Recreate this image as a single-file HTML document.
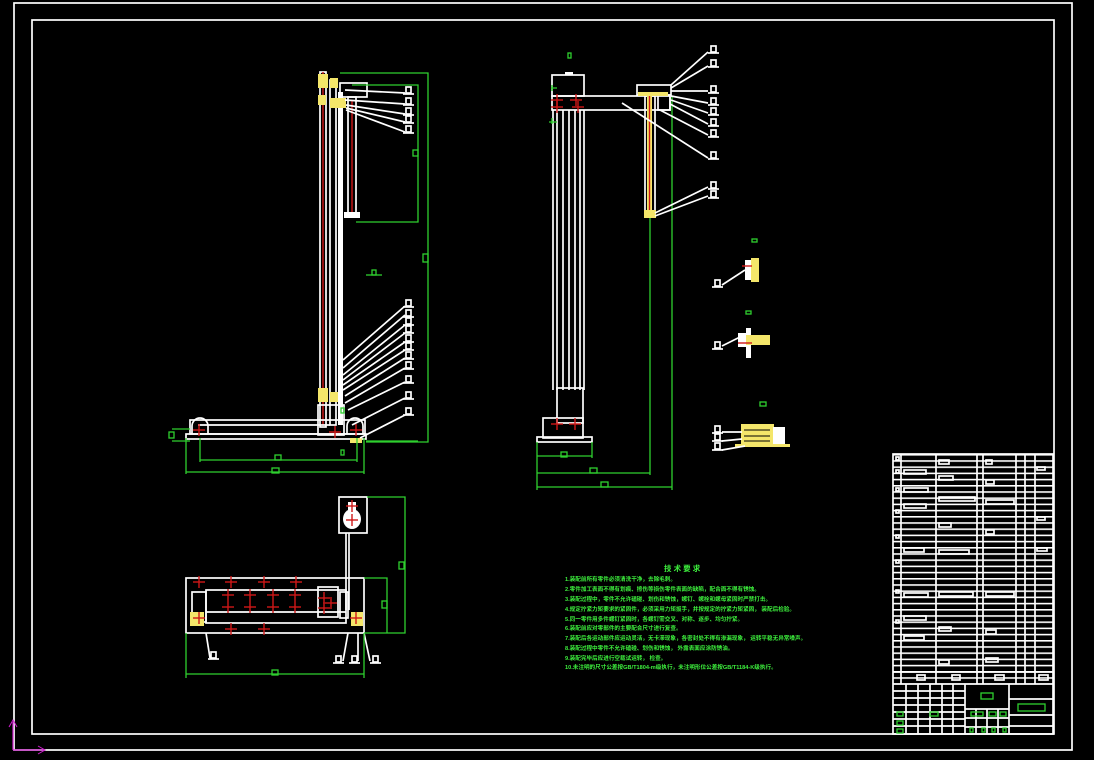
<!DOCTYPE html>
<html><head><meta charset="utf-8"><style>
html,body{margin:0;padding:0;background:#000;width:1094px;height:760px;overflow:hidden}
svg{display:block}
.w{stroke:#fff;fill:none;stroke-width:1.7}
.wf{fill:#fff}
.g{stroke:#2fd02f;fill:none;stroke-width:1.3}
.r{stroke:#d01818;fill:none;stroke-width:1.4}
.y{fill:#f4e66a}
.t{font-family:"Liberation Sans","Noto Sans CJK SC",sans-serif;fill:#3df03d;font-size:5.6px;font-weight:bold}
</style></head><body>
<svg width="1094" height="760" viewBox="0 0 1094 760" xmlns="http://www.w3.org/2000/svg">
<defs>
<pattern id="rows" x="0" y="454" width="10" height="6.2" patternUnits="userSpaceOnUse">
<line x1="0" y1="0.8" x2="10" y2="0.8" stroke="#fff" stroke-width="1.6"/>
</pattern>
<g id="lb"><rect x="0" y="0" width="5" height="6" class="w" stroke-width="1.2"/><line x1="-3" y1="7" x2="8" y2="7" class="w" stroke-width="1.2"/></g>
<g id="cx"><line x1="-6" y1="0" x2="6" y2="0" class="r"/><line x1="0" y1="-6" x2="0" y2="6" class="r"/></g>
</defs>
<!-- frames -->
<rect x="14" y="3" width="1058" height="747" class="w" stroke-width="1"/>
<rect x="32" y="20" width="1022" height="714" class="w" stroke-width="1.6"/>
<!-- UCS -->
<line x1="13" y1="750" x2="13" y2="722" stroke="#d020d0" stroke-width="1.2"/>
<line x1="13" y1="750" x2="44" y2="750" stroke="#d020d0" stroke-width="1.2"/>
<path d="M9 727 L13 720 L17 727 M38 746 L45 750 L38 754" stroke="#d020d0" fill="none"/>

<!-- ========== LEFT VIEW ========== -->
<g>
<rect x="320" y="72" width="6" height="355" class="w"/>
<rect x="330" y="80" width="6" height="345" class="w"/>
<rect x="338" y="92" width="5" height="333" class="wf"/>
<line x1="323" y1="72" x2="323" y2="425" class="r" stroke-width="1"/>
<rect x="340" y="83" width="27" height="14" class="w"/>
<rect x="348" y="97" width="8" height="118" class="w"/>
<line x1="352" y1="100" x2="352" y2="212" class="r" stroke-width="1"/>
<rect x="344" y="212" width="16" height="6" class="wf"/>
<rect x="318" y="74" width="10" height="14" class="y"/><rect x="330" y="78" width="8" height="10" class="y"/>
<rect x="330" y="98" width="16" height="10" class="y"/><rect x="318" y="95" width="8" height="10" class="y"/>
<rect x="318" y="388" width="10" height="14" class="y"/><rect x="330" y="392" width="8" height="10" class="y"/>
<!-- base -->
<rect x="190" y="420" width="175" height="14" class="w" stroke-width="2.4"/>
<rect x="186" y="434" width="180" height="5" class="w" stroke-width="2"/>
<line x1="198" y1="425" x2="330" y2="425" class="w"/>
<path d="M192 434 v-8 a8 8 0 0 1 16 0 v8" class="w" stroke-width="2.4"/>
<path d="M347 434 v-8 a8 8 0 0 1 16 0 v8" class="w" stroke-width="2.4"/>
<rect x="318" y="405" width="26" height="30" class="w"/>
<use href="#cx" x="199" y="430"/><use href="#cx" x="356" y="430"/><use href="#cx" x="335" y="432"/>
<rect x="350" y="438" width="12" height="5" class="y"/>
<!-- dims -->
<polyline points="340,73 428,73 428,442 366,442" class="g"/>
<polyline points="352,85 418,85 418,222 356,222" class="g"/>
<rect x="413" y="150" width="5" height="6" class="g"/><rect x="423" y="254" width="5" height="8" class="g"/>
<line x1="186" y1="438" x2="186" y2="474" class="g"/><line x1="364" y1="438" x2="364" y2="474" class="g"/>
<line x1="200" y1="438" x2="200" y2="462" class="g"/><line x1="357" y1="438" x2="357" y2="462" class="g"/>
<line x1="200" y1="460" x2="357" y2="460" class="g"/><line x1="186" y1="472" x2="364" y2="472" class="g"/>
<rect x="275" y="455" width="6" height="5" class="g"/><rect x="272" y="468" width="7" height="5" class="g"/>
<line x1="172" y1="429" x2="190" y2="429" class="g"/><line x1="172" y1="441" x2="190" y2="441" class="g"/><rect x="169" y="432" width="5" height="6" class="g"/>
<line x1="366" y1="441" x2="418" y2="441" class="g"/>
<rect x="341" y="450" width="3" height="5" class="g"/><rect x="341" y="408" width="3" height="5" class="g"/>
<line x1="366" y1="275" x2="382" y2="275" class="g"/><rect x="372" y="270" width="4" height="5" class="g"/>
<!-- leaders top -->
<g class="w" stroke-width="1.1">
<line x1="345" y1="90" x2="405" y2="93"/><line x1="345" y1="100" x2="405" y2="104"/><line x1="346" y1="105" x2="405" y2="114"/><line x1="346" y1="108" x2="405" y2="122"/><line x1="346" y1="110" x2="405" y2="132"/>
</g>
<use href="#lb" x="406" y="87"/><use href="#lb" x="406" y="98"/><use href="#lb" x="406" y="108"/><use href="#lb" x="406" y="116"/><use href="#lb" x="406" y="126"/>
<!-- leaders bottom -->
<g class="w" stroke-width="1.1">
<line x1="343" y1="360" x2="405" y2="306"/><line x1="343" y1="368" x2="405" y2="315"/><line x1="343" y1="375" x2="405" y2="325"/><line x1="343" y1="380" x2="405" y2="333"/><line x1="343" y1="385" x2="405" y2="342"/><line x1="343" y1="390" x2="405" y2="350"/><line x1="345" y1="396" x2="405" y2="358"/><line x1="345" y1="403" x2="405" y2="368"/><line x1="348" y1="410" x2="405" y2="382"/><line x1="352" y1="425" x2="405" y2="398"/><line x1="360" y1="438" x2="405" y2="415"/>
</g>
<use href="#lb" x="406" y="300"/><use href="#lb" x="406" y="310"/><use href="#lb" x="406" y="318"/><use href="#lb" x="406" y="326"/><use href="#lb" x="406" y="335"/><use href="#lb" x="406" y="343"/><use href="#lb" x="406" y="352"/><use href="#lb" x="406" y="362"/><use href="#lb" x="406" y="376"/><use href="#lb" x="406" y="392"/><use href="#lb" x="406" y="408"/>
</g>

<!-- ========== MIDDLE VIEW ========== -->
<g>
<rect x="552" y="75" width="32" height="21" class="w"/>
<rect x="565" y="72" width="8" height="3" class="wf"/>
<rect x="552" y="96" width="118" height="14" class="w" stroke-width="2"/>
<g class="w"><line x1="553" y1="110" x2="553" y2="390"/><line x1="557" y1="110" x2="557" y2="390"/><line x1="563" y1="110" x2="563" y2="390"/><line x1="569" y1="110" x2="569" y2="390"/><line x1="575" y1="110" x2="575" y2="390"/><line x1="580" y1="110" x2="580" y2="390"/><line x1="584" y1="110" x2="584" y2="390"/></g>
<rect x="557" y="388" width="26" height="35" class="w"/>
<rect x="543" y="418" width="40" height="20" class="w"/>
<rect x="537" y="437" width="55" height="5" class="w" stroke-width="2"/>
<use href="#cx" x="557" y="424"/><use href="#cx" x="575" y="424"/>
<use href="#cx" x="557" y="100"/><use href="#cx" x="557" y="107"/><use href="#cx" x="576" y="100"/><use href="#cx" x="578" y="107"/>
<path d="M551 88 h6 M549 122 h8 M552 85 v6 M552 118 v6" class="g" stroke-width="2"/>
<rect x="637" y="85" width="34" height="10" class="w"/>
<rect x="658" y="95" width="12" height="15" class="w"/>
<rect x="645" y="96" width="10" height="115" class="w"/>
<rect x="647" y="96" width="5" height="115" class="y"/>
<line x1="649.5" y1="96" x2="649.5" y2="210" class="r" stroke-width="1"/>
<rect x="644" y="210" width="12" height="8" class="y"/>
<rect x="638" y="92" width="30" height="4" class="y"/>
<!-- dims -->
<line x1="672" y1="96" x2="672" y2="490" class="g"/><line x1="650" y1="218" x2="650" y2="475" class="g"/>
<line x1="537" y1="442" x2="537" y2="490" class="g"/><line x1="592" y1="442" x2="592" y2="458" class="g"/>
<line x1="537" y1="456" x2="592" y2="456" class="g"/><line x1="537" y1="473" x2="650" y2="473" class="g"/><line x1="537" y1="487" x2="672" y2="487" class="g"/>
<rect x="561" y="452" width="6" height="5" class="g"/><rect x="590" y="468" width="7" height="5" class="g"/><rect x="601" y="482" width="7" height="5" class="g"/>
<rect x="568" y="53" width="3" height="5" class="g"/>
<g class="w" stroke-width="1.1">
<line x1="671" y1="85" x2="708" y2="52"/><line x1="671" y1="88" x2="708" y2="66"/><line x1="671" y1="91" x2="708" y2="91"/><line x1="671" y1="96" x2="708" y2="103"/><line x1="671" y1="100" x2="708" y2="113"/><line x1="670" y1="104" x2="708" y2="124"/><line x1="660" y1="110" x2="708" y2="135"/><line x1="622" y1="103" x2="708" y2="158"/><line x1="655" y1="213" x2="708" y2="187"/><line x1="655" y1="216" x2="708" y2="196"/>
</g>
<use href="#lb" x="711" y="46"/><use href="#lb" x="711" y="60"/><use href="#lb" x="711" y="86"/><use href="#lb" x="711" y="98"/><use href="#lb" x="711" y="108"/><use href="#lb" x="711" y="119"/><use href="#lb" x="711" y="130"/><use href="#lb" x="711" y="152"/><use href="#lb" x="711" y="182"/><use href="#lb" x="711" y="191"/>
</g>

<!-- ========== DETAIL VIEWS ========== -->
<rect x="752" y="239" width="5" height="3" class="g"/>
<rect x="745" y="260" width="8" height="20" class="wf"/><rect x="751" y="258" width="8" height="24" class="y"/><line x1="742" y1="266" x2="752" y2="266" class="r"/>
<line x1="722" y1="285" x2="745" y2="270" class="w" stroke-width="1.1"/><use href="#lb" x="715" y="280"/>
<rect x="746" y="311" width="5" height="3" class="g"/>
<rect x="746" y="328" width="5" height="30" class="wf"/><rect x="742" y="335" width="28" height="10" class="y"/><rect x="738" y="333" width="8" height="14" class="wf"/><line x1="738" y1="343" x2="752" y2="343" class="r"/>
<line x1="722" y1="346" x2="740" y2="337" class="w" stroke-width="1.1"/><use href="#lb" x="715" y="342"/>
<rect x="760" y="402" width="6" height="4" class="g"/>
<rect x="741" y="424" width="33" height="20" class="y"/><rect x="773" y="427" width="12" height="17" class="wf"/><rect x="735" y="444" width="55" height="3" class="y"/>
<g stroke="#000" stroke-width="1"><line x1="744" y1="430" x2="770" y2="430"/><line x1="744" y1="436" x2="770" y2="436"/><line x1="744" y1="441" x2="770" y2="441"/></g>
<line x1="722" y1="432" x2="742" y2="432" class="w" stroke-width="1.1"/><line x1="722" y1="441" x2="742" y2="439" class="w" stroke-width="1.1"/><line x1="722" y1="450" x2="745" y2="446" class="w" stroke-width="1.1"/>
<use href="#lb" x="715" y="426"/><use href="#lb" x="715" y="434"/><use href="#lb" x="715" y="443"/>

<!-- ========== PLAN VIEW ========== -->
<g>
<rect x="339" y="497" width="28" height="36" class="w" stroke-width="2.4"/>
<ellipse cx="352" cy="519" rx="9" ry="10" class="wf"/><rect x="348" y="502" width="8" height="8" class="wf"/>
<use href="#cx" x="352" y="506"/><use href="#cx" x="352" y="520"/>
<line x1="346" y1="533" x2="346" y2="610" class="w" stroke-width="2.2"/><line x1="349" y1="533" x2="349" y2="610" class="w"/>
<rect x="186" y="578" width="178" height="55" class="w" stroke-width="2"/>
<rect x="206" y="590" width="140" height="33" class="w"/>
<line x1="206" y1="612" x2="346" y2="612" class="w"/>
<rect x="192" y="592" width="14" height="30" class="w"/>
<rect x="318" y="587" width="20" height="30" class="w"/>
<rect x="340" y="592" width="8" height="26" class="w"/>
<rect x="190" y="612" width="14" height="14" class="y"/><rect x="351" y="612" width="12" height="14" class="y"/>
<use href="#cx" x="199" y="582"/><use href="#cx" x="231" y="582"/><use href="#cx" x="264" y="582"/><use href="#cx" x="296" y="582"/>
<use href="#cx" x="228" y="595"/><use href="#cx" x="250" y="595"/><use href="#cx" x="273" y="595"/><use href="#cx" x="295" y="595"/>
<use href="#cx" x="228" y="607"/><use href="#cx" x="250" y="607"/><use href="#cx" x="273" y="607"/><use href="#cx" x="295" y="607"/>
<use href="#cx" x="231" y="629"/><use href="#cx" x="264" y="629"/><use href="#cx" x="199" y="618"/><use href="#cx" x="356" y="618"/>
<use href="#cx" x="324" y="598"/><use href="#cx" x="324" y="608"/><use href="#cx" x="331" y="603"/>
<g class="w" stroke-width="1.1"><line x1="206" y1="633" x2="210" y2="658"/><line x1="348" y1="633" x2="343" y2="661"/><line x1="358" y1="633" x2="358" y2="661"/><line x1="364" y1="633" x2="370" y2="661"/></g>
<use href="#lb" x="211" y="652"/><use href="#lb" x="336" y="656"/><use href="#lb" x="352" y="656"/><use href="#lb" x="373" y="656"/>
<polyline points="367,497 405,497 405,633 364,633" class="g"/>
<polyline points="364,578 387,578 387,633" class="g"/>
<rect x="399" y="562" width="5" height="7" class="g"/><rect x="382" y="601" width="5" height="7" class="g"/>
<line x1="186" y1="633" x2="186" y2="678" class="g"/><line x1="364" y1="633" x2="364" y2="678" class="g"/>
<line x1="186" y1="674" x2="364" y2="674" class="g"/><rect x="272" y="670" width="6" height="5" class="g"/>
</g>

<!-- ========== TECH REQUIREMENTS ========== -->
<text x="664" y="571" class="t" style="font-size:7.5px">技 术 要 求</text>
<text x="565" y="581" class="t">1.装配前所有零件必须清洗干净，去除毛刺。</text>
<text x="565" y="591" class="t">2.零件加工表面不得有划痕、擦伤等损伤零件表面的缺陷，配合面不得有锈蚀。</text>
<text x="565" y="601" class="t">3.装配过程中，零件不允许磕碰、划伤和锈蚀，螺钉、螺栓和螺母紧固时严禁打击。</text>
<text x="565" y="611" class="t">4.规定拧紧力矩要求的紧固件，必须采用力矩扳手，并按规定的拧紧力矩紧固，  装配后检验。</text>
<text x="565" y="621" class="t">5.同一零件用多件螺钉紧固时，各螺钉需交叉、对称、逐步、均匀拧紧。</text>
<text x="565" y="630" class="t">6.装配前应对零部件的主要配合尺寸进行复查。</text>
<text x="565" y="640" class="t">7.装配后各运动部件应运动灵活，无卡滞现象，各密封处不得有渗漏现象，  运转平稳无异常噪声。</text>
<text x="565" y="650" class="t">8.装配过程中零件不允许磕碰、划伤和锈蚀，  外露表面应涂防锈油。</text>
<text x="565" y="660" class="t">9.装配完毕后应进行空载试运转，  检查。</text>
<text x="565" y="669" class="t">10.未注明的尺寸公差按GB/T1804-m级执行，未注明形位公差按GB/T1184-K级执行。</text>

<!-- ========== TITLE BLOCK ========== -->
<g>
<rect x="893" y="454" width="160" height="230" fill="url(#rows)"/>
<rect x="893" y="454" width="160" height="280" class="w" stroke-width="2"/>
<g class="w" stroke-width="1.8">
<line x1="901" y1="454" x2="901" y2="684"/><line x1="936" y1="454" x2="936" y2="684"/><line x1="977" y1="454" x2="977" y2="684"/><line x1="983" y1="454" x2="983" y2="684"/><line x1="1016" y1="454" x2="1016" y2="684"/><line x1="1025" y1="454" x2="1025" y2="684"/><line x1="1035" y1="454" x2="1035" y2="684"/>
<line x1="893" y1="684" x2="1053" y2="684"/><line x1="893" y1="672" x2="1053" y2="672"/>
<line x1="965" y1="684" x2="965" y2="734"/><line x1="1009" y1="684" x2="1009" y2="734"/>
<line x1="1009" y1="699" x2="1053" y2="699"/><line x1="1009" y1="715" x2="1053" y2="715"/><line x1="1009" y1="726" x2="1053" y2="726"/>
<line x1="965" y1="709" x2="1009" y2="709"/><line x1="965" y1="727" x2="1009" y2="727"/>
</g>
<g class="w" stroke-width="1.2">
<line x1="893" y1="691" x2="965" y2="691"/><line x1="893" y1="698" x2="965" y2="698"/><line x1="893" y1="705" x2="965" y2="705"/><line x1="893" y1="712" x2="965" y2="712"/><line x1="893" y1="719" x2="965" y2="719"/><line x1="893" y1="726" x2="965" y2="726"/>
<line x1="906" y1="684" x2="906" y2="734"/><line x1="918" y1="684" x2="918" y2="734"/><line x1="930" y1="684" x2="930" y2="734"/><line x1="942" y1="684" x2="942" y2="734"/><line x1="953" y1="684" x2="953" y2="734"/>
<line x1="965" y1="718" x2="1009" y2="718"/><line x1="976" y1="709" x2="976" y2="734"/><line x1="987" y1="709" x2="987" y2="734"/><line x1="998" y1="709" x2="998" y2="734"/>
</g>
<g class="w" stroke-width="1.2">
<rect x="917" y="675" width="8" height="5"/><rect x="952" y="675" width="8" height="5"/><rect x="995" y="675" width="9" height="5"/><rect x="1039" y="675" width="9" height="5"/>
</g>
<g class="g">
<rect x="981" y="693" width="12" height="6"/><rect x="1018" y="704" width="27" height="7"/>
<rect x="971" y="712" width="12" height="4"/><rect x="989" y="712" width="7" height="4"/><rect x="1000" y="712" width="6" height="4"/>
<rect x="897" y="712" width="6" height="4"/><rect x="897" y="721" width="6" height="4"/><rect x="897" y="729" width="6" height="4"/><rect x="930" y="712" width="8" height="4"/>
<rect x="970" y="728" width="3" height="4"/><rect x="982" y="728" width="3" height="4"/><rect x="992" y="728" width="3" height="4"/><rect x="1003" y="728" width="3" height="4"/>
</g>
<g class="w" stroke-width="1.2">
<rect x="896" y="457" width="3" height="3"/><rect x="896" y="470" width="3" height="3"/><rect x="896" y="488" width="3" height="3"/><rect x="896" y="510" width="3" height="3"/><rect x="896" y="535" width="3" height="3"/><rect x="896" y="560" width="3" height="3"/><rect x="896" y="590" width="3" height="3"/><rect x="896" y="620" width="3" height="3"/>
<rect x="904" y="470" width="22" height="4"/><rect x="904" y="488" width="24" height="4"/><rect x="904" y="504" width="22" height="4"/><rect x="904" y="548" width="20" height="4"/><rect x="904" y="593" width="24" height="4"/><rect x="904" y="616" width="22" height="4"/><rect x="904" y="636" width="20" height="4"/>
<rect x="939" y="460" width="10" height="4"/><rect x="939" y="476" width="14" height="4"/><rect x="939" y="497" width="36" height="4"/><rect x="939" y="523" width="12" height="4"/><rect x="939" y="550" width="30" height="4"/><rect x="939" y="592" width="34" height="4"/><rect x="939" y="627" width="12" height="4"/><rect x="939" y="660" width="10" height="4"/>
<rect x="986" y="460" width="6" height="4"/><rect x="986" y="480" width="8" height="4"/><rect x="986" y="500" width="28" height="4"/><rect x="986" y="530" width="8" height="4"/><rect x="986" y="592" width="28" height="4"/><rect x="986" y="630" width="10" height="4"/><rect x="986" y="658" width="12" height="4"/>
<rect x="1037" y="467" width="8" height="3"/><rect x="1037" y="517" width="8" height="3"/><rect x="1037" y="548" width="10" height="3"/>
</g>
</g>
</svg>
</body></html>
